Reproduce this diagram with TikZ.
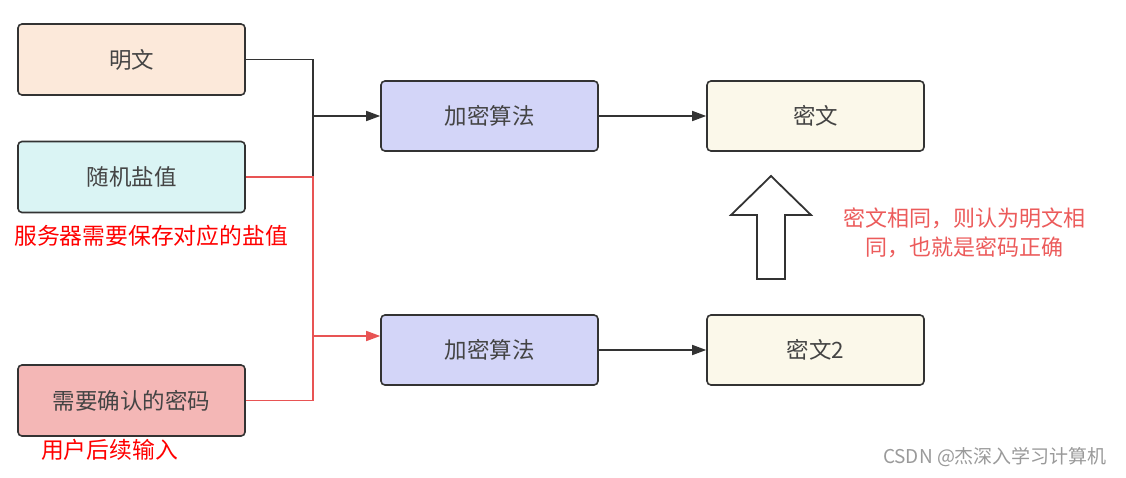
\documentclass[tikz,border=0pt]{standalone}
\usepackage{fontspec}
\setmainfont{Noto Sans CJK SC}
\usetikzlibrary{arrows.meta}
\definecolor{bordc}{HTML}{333333}
\definecolor{txtc}{HTML}{444444}
\definecolor{peach}{HTML}{FCE9DA}
\definecolor{cyanl}{HTML}{DAF4F4}
\definecolor{pinkl}{HTML}{F4B7B6}
\definecolor{lav}{HTML}{D3D5F8}
\definecolor{cream}{HTML}{FBF8EA}
\definecolor{linered}{HTML}{E85454}
\definecolor{notered}{HTML}{EC5B5B}
\definecolor{wm}{HTML}{9A9A9A}
\tikzset{
  stepbox/.style={draw=bordc, line width=1.6pt, rounded corners=4pt, minimum width=227pt, minimum height=71pt, inner sep=0pt, text=txtc, font=\fontsize{22.5}{26}\selectfont},
  algbox/.style={stepbox, fill=lav, minimum width=217pt, minimum height=70pt},
  outbox/.style={stepbox, fill=cream, minimum width=217pt, minimum height=70pt},
  conn/.style={draw=bordc, line width=1.5pt},
  connr/.style={draw=linered, line width=1.5pt},
  tip/.style={-{Triangle[length=14pt,width=10pt]}},
  redlabel/.style={text=red, font=\fontsize{22.8}{27}\selectfont, inner sep=0pt}
}
\begin{document}
\begin{tikzpicture}[x=1pt,y=-1pt]
\useasboundingbox (0,0) rectangle (1126,477);
\fill[white] (0,0) rectangle (1126,477);

\node[stepbox, fill=peach] (m) at (131.5,59.5) {明文};
\node[stepbox, fill=cyanl] (s) at (131.5,177) {随机盐值};
\node[stepbox, fill=pinkl] (p) at (131.5,400.5) {需要确认的密码};
\node[algbox] (e1) at (489.5,116) {加密算法};
\node[algbox] (e2) at (489.5,350) {加密算法};
\node[outbox] (c1) at (815.5,116) {密文};
\node[outbox] (c2) at (815.5,350) {密文2};

\coordinate (j1) at (313,116);
\coordinate (j2) at (313,336);

\draw[conn] (m.east) -| (j1);
\draw[conn] (s.east) -| (j1);
\draw[conn,tip] (j1) -- (e1.west);
\draw[connr] (s.east) -| (j2);
\draw[connr] (p.east) -| (j2);
\draw[connr,tip] (j2) -- (j2 -| e2.west);
\draw[conn,tip] (e1.east) -- (c1.west);
\draw[conn,tip] (e2.east) -- (c2.west);

\draw[draw=bordc, fill=white, line width=1.8pt, line join=miter]
  (757,279) -- (757,215) -- (731,215) -- (771,176) -- (811,215) -- (785,215) -- (785,279) -- cycle;

\node[redlabel] (lab1) at (151,236) {服务器需要保存对应的盐值};
\node[redlabel] (lab2) at (109.5,450) {用户后续输入};
\node[text=notered, font=\fontsize{22}{29}\selectfont, align=center, inner sep=0pt] (note) at (964,232.5) {密文相同，则认为明文相\\同，也就是密码正确};
\node[text=wm, font=\fontsize{19}{22}\selectfont, inner sep=0pt] (wmk) at (995,457) {CSDN @杰深入学习计算机};
\end{tikzpicture}
\end{document}
